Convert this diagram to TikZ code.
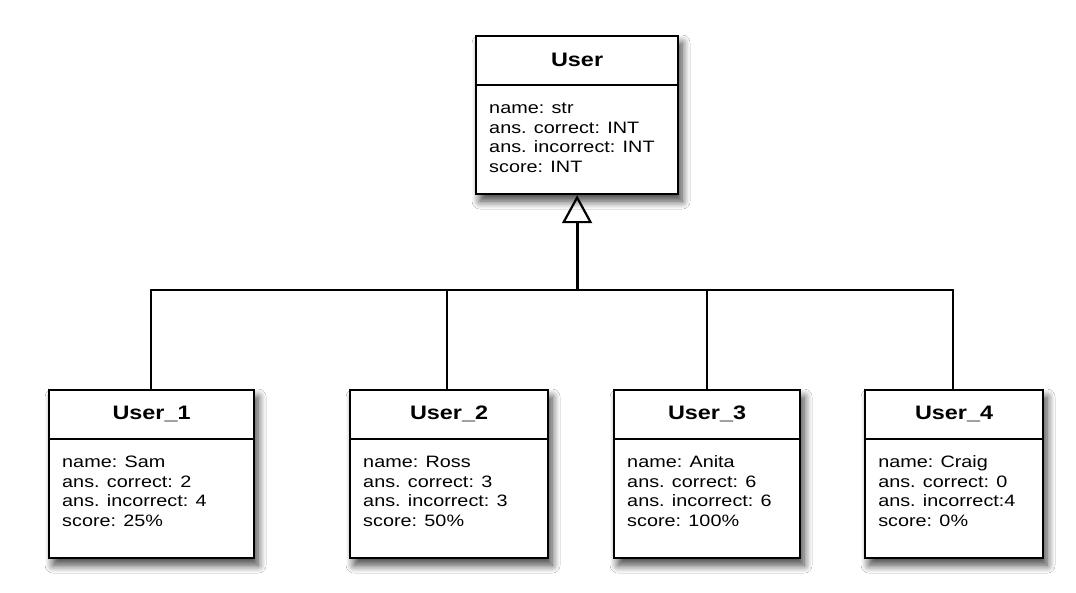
\documentclass[tikz,border=0pt]{standalone}
\usepackage{fontspec}
\setmainfont{Liberation Sans}
\usetikzlibrary{arrows.meta,shadows.blur}
\tikzset{
  umlbox/.style={draw=black, line width=2.2pt, fill=white, inner sep=0pt,
    blur shadow={shadow xshift=4pt, shadow yshift=-7pt, shadow blur radius=8pt, shadow blur steps=10, shadow opacity=75}},
  umltitle/.style={font=\fontsize{19.5}{22}\selectfont\bfseries, xscale=1.2, transform shape, inner sep=0pt},
  umlbody/.style={font=\fontsize{16.5}{19.5}\selectfont, align=left, xscale=1.2, transform shape, inner sep=0pt, anchor=base west},
  divider/.style={line width=2.2pt},
  conn/.style={line width=2.2pt},
  gen/.style={line width=3pt, -{Triangle[open, width=30pt, length=28pt, line width=2.2pt]}}
}
\newcommand{\umlclass}[8]{%
  % #1 name, #2 x1, #3 y1, #4 x2, #5 y2, #6 title, #7 body (4 lines), #8 header height
  \node[umlbox, anchor=north west, minimum width={#4-#2}, minimum height={#5-#3}] (#1) at (#2,#3) {};
  \draw[divider] ([yshift=-#8pt]#1.north west) -- ([yshift=-#8pt]#1.north east);
  \node[umltitle] (#1-t) at ([yshift=-#8pt/2]#1.north) {#6};
  \node[umlbody] (#1-b) at ([xshift=14pt,yshift=-#8pt-87pt]#1.north west) {#7};
}
\begin{document}
\begin{tikzpicture}[x=1pt,y=-1pt]
\useasboundingbox[fill=white] (0,0) rectangle (1076,592);

\umlclass{user}{475}{35}{677}{193}{User}{name: str\\ans. correct: INT\\ans. incorrect: INT\\score: INT}{50}
\umlclass{u1}{48}{389}{253}{557}{User\_1}{name: Sam\\ans. correct: 2\\ans. incorrect: 4\\score: 25\%}{50}
\umlclass{u2}{349}{389}{547}{557}{User\_2}{name: Ross\\ans. correct: 3\\ans. incorrect: 3\\score: 50\%}{50}
\umlclass{u3}{613}{389}{799}{557}{User\_3}{name: Anita\\ans. correct: 6\\ans. incorrect: 6\\score: 100\%}{50}
\umlclass{u4}{864}{389}{1042}{557}{User\_4}{name: Craig\\ans. correct: 0\\ans. incorrect:4\\score: 0\%}{50}

\coordinate (j) at (user.south |- 0,290);
\draw[conn] (u1.north -| 151,0) |- (j);
\draw[conn] (u2.north -| 447,0) |- (j);
\draw[conn] (u3.north -| 707,0) |- (j);
\draw[conn] (u4.north -| 953,0) |- (j);
\draw[gen] (j) -- (user.south);
\end{tikzpicture}
\end{document}
